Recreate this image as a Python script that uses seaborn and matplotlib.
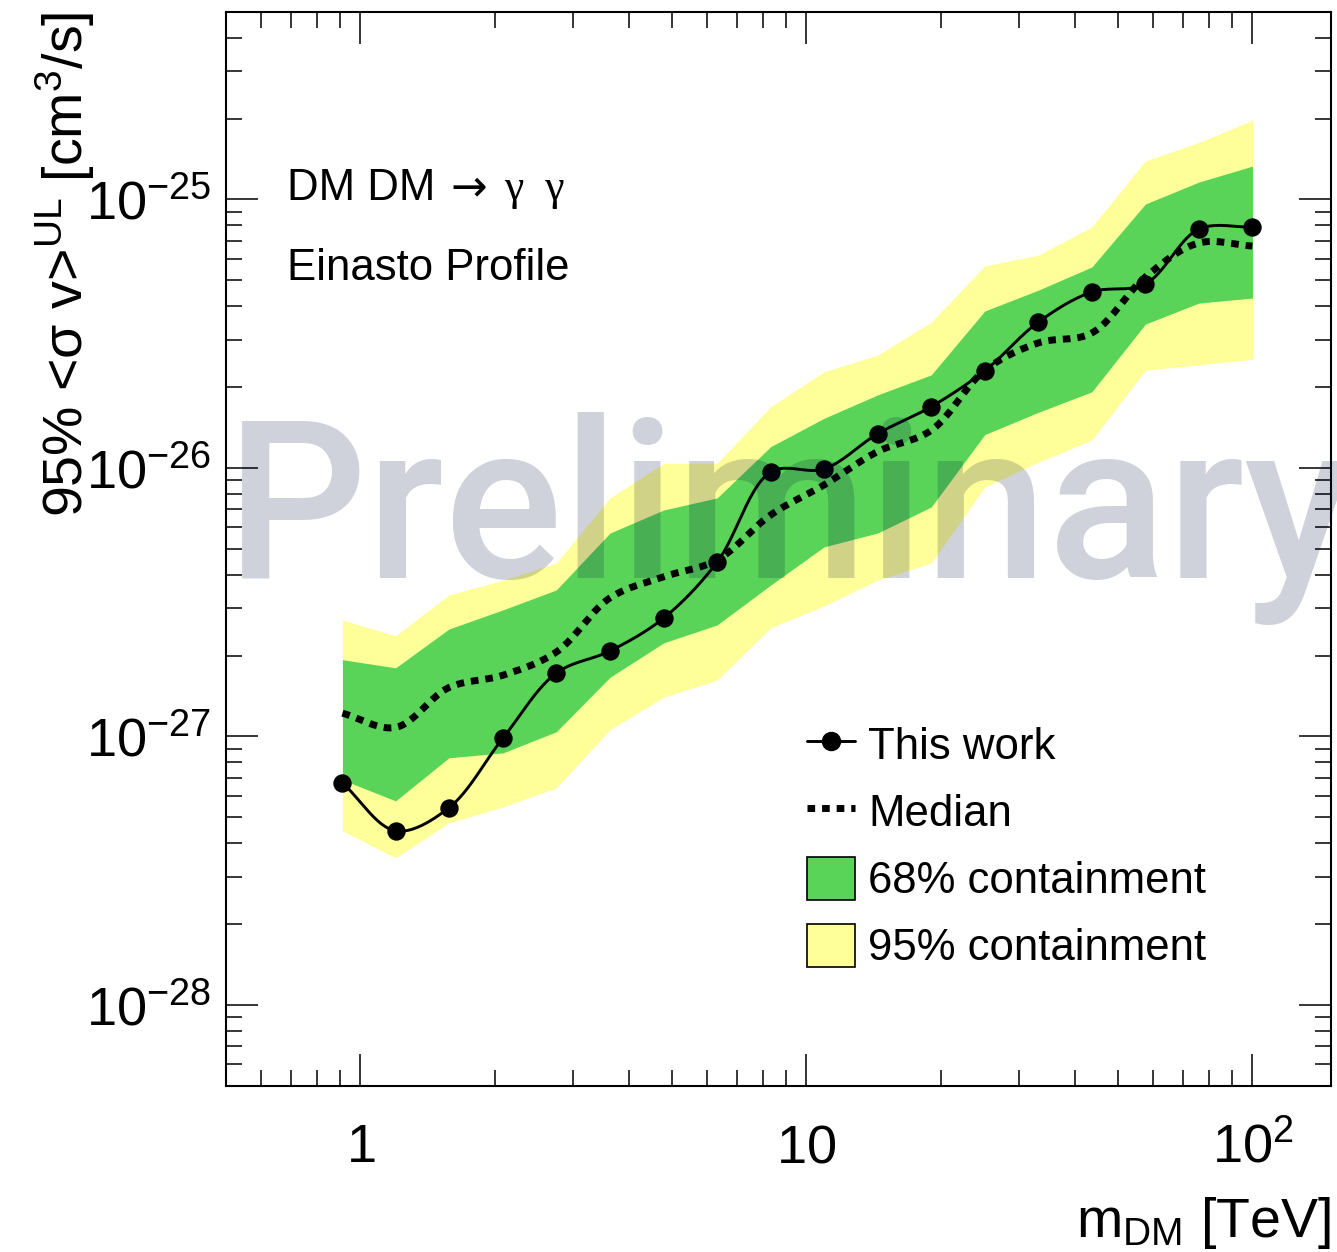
import numpy as np
import pandas as pd
import matplotlib
matplotlib.use("Agg")
import matplotlib.pyplot as plt
import seaborn as sns
from matplotlib.lines import Line2D
from matplotlib.patches import Patch
from matplotlib.ticker import FixedLocator, FixedFormatter, LogLocator, NullFormatter

# Dark-matter mass grid [TeV]
mass_tev = [0.912, 1.20, 1.58, 2.09, 2.75, 3.63, 4.79, 6.31, 8.32,
            10.96, 14.45, 19.05, 25.12, 33.11, 43.65, 57.54, 75.86, 100.0]

# 95% upper limit on <sigma v> [cm^3/s]
limit_ul = [6.71e-28, 4.45e-28, 5.42e-28, 9.87e-28, 1.72e-27, 2.08e-27,
            2.76e-27, 4.46e-27, 9.65e-27, 9.91e-27, 1.34e-26, 1.69e-26,
            2.30e-26, 3.49e-26, 4.52e-26, 4.84e-26, 7.75e-26, 7.89e-26]

# Expected limits from background-only realisations
median_ul = [1.22e-27, 1.08e-27, 1.52e-27, 1.69e-27, 2.06e-27, 3.28e-27,
             3.93e-27, 4.54e-27, 6.68e-27, 8.64e-27, 1.15e-26, 1.38e-26,
             2.31e-26, 2.92e-26, 3.18e-26, 5.14e-26, 6.88e-26, 6.70e-26]
band68_lo = [6.89e-28, 5.75e-28, 8.32e-28, 8.68e-28, 1.04e-27, 1.66e-27,
             2.23e-27, 2.60e-27, 3.66e-27, 5.08e-27, 5.72e-27, 7.15e-27,
             1.33e-26, 1.61e-26, 1.92e-26, 3.43e-26, 4.11e-26, 4.29e-26]
band68_hi = [1.93e-27, 1.80e-27, 2.51e-27, 2.96e-27, 3.51e-27, 5.72e-27,
             6.97e-27, 7.73e-27, 1.20e-26, 1.53e-26, 1.87e-26, 2.22e-26,
             3.84e-26, 4.59e-26, 5.60e-26, 9.61e-26, 1.16e-25, 1.33e-25]
band95_lo = [4.45e-28, 3.53e-28, 4.76e-28, 5.46e-28, 6.43e-28, 1.06e-27,
             1.40e-27, 1.62e-27, 2.54e-27, 3.06e-27, 3.82e-27, 4.42e-27,
             8.49e-27, 1.05e-26, 1.27e-26, 2.31e-26, 2.42e-26, 2.54e-26]
band95_hi = [2.71e-27, 2.37e-27, 3.36e-27, 3.82e-27, 4.42e-27, 7.73e-27,
             1.04e-26, 1.04e-26, 1.69e-26, 2.28e-26, 2.63e-26, 3.49e-26,
             5.65e-26, 6.20e-26, 7.89e-26, 1.39e-25, 1.63e-25, 1.97e-25]

x_tick_values = [1, 10, 100]
x_tick_labels = [r"$\mathdefault{1}$", r"$\mathdefault{10}$", r"$\mathdefault{10^{2}}$"]

df = pd.DataFrame({"mass": mass_tev, "limit": limit_ul, "median": median_ul,
                   "lo68": band68_lo, "hi68": band68_hi,
                   "lo95": band95_lo, "hi95": band95_hi})

GREEN = "#59D459"
YELLOW = "#FFFF99"

sns.set_theme(style="ticks")
plt.rcParams["font.family"] = ["Liberation Sans", "DejaVu Sans"]
plt.rcParams["mathtext.fontset"] = "custom"
plt.rcParams["mathtext.rm"] = "Liberation Sans"
plt.rcParams["mathtext.it"] = "Liberation Sans:italic"
plt.rcParams["mathtext.bf"] = "Liberation Sans:bold"
plt.rcParams["axes.linewidth"] = 1.5
plt.rcParams["axes.edgecolor"] = "black"
plt.rcParams["text.color"] = "black"
plt.rcParams["axes.labelcolor"] = "black"
plt.rcParams["xtick.color"] = "black"
plt.rcParams["ytick.color"] = "black"
plt.rcParams["legend.labelcolor"] = "black"


def catmull_rom(xv, yv, ax, n=40, alpha=0.5):
    """Smooth curve through the points, computed in screen space."""
    pts = ax.transData.transform(np.column_stack([xv, yv]))
    P = np.vstack([2 * pts[0] - pts[1], pts, 2 * pts[-1] - pts[-2]])
    segs = []
    for i in range(len(P) - 3):
        p0, p1, p2, p3 = P[i], P[i + 1], P[i + 2], P[i + 3]
        t0 = 0.0
        t1 = t0 + np.linalg.norm(p1 - p0) ** alpha
        t2 = t1 + np.linalg.norm(p2 - p1) ** alpha
        t3 = t2 + np.linalg.norm(p3 - p2) ** alpha
        t = np.linspace(t1, t2, n)[:, None]
        A1 = (t1 - t) / (t1 - t0) * p0 + (t - t0) / (t1 - t0) * p1
        A2 = (t2 - t) / (t2 - t1) * p1 + (t - t1) / (t2 - t1) * p2
        A3 = (t3 - t) / (t3 - t2) * p2 + (t - t2) / (t3 - t2) * p3
        B1 = (t2 - t) / (t2 - t0) * A1 + (t - t0) / (t2 - t0) * A2
        B2 = (t3 - t) / (t3 - t1) * A2 + (t - t1) / (t3 - t1) * A3
        C = (t2 - t) / (t2 - t1) * B1 + (t - t1) / (t2 - t1) * B2
        segs.append(C if i == 0 else C[1:])
    curve = ax.transData.inverted().transform(np.vstack(segs))
    return curve[:, 0], curve[:, 1]


fig = plt.figure(figsize=(13.37, 12.52), dpi=100)
ax = fig.add_axes([0.16903, 0.13283, 0.82648, 0.85783])
ax.set_xscale("log")
ax.set_yscale("log")
ax.set_xlim(0.5, 150)
ax.set_ylim(5e-29, 5e-25)

# Containment bands
ax.fill_between(df["mass"], df["lo95"], df["hi95"], color=YELLOW, lw=0, zorder=1)
ax.fill_between(df["mass"], df["lo68"], df["hi68"], color=GREEN, lw=0, zorder=2)

# Median expected limit (smooth, dotted)
mx, my = catmull_rom(df["mass"].values, df["median"].values, ax)
sns.lineplot(x=mx, y=my, ax=ax, color="black", lw=5, sort=False, estimator=None,
             linestyle=(0, (1.1, 1.0)), dash_capstyle="butt", zorder=3)

# Observed limit (smooth line + markers)
lx, ly = catmull_rom(df["mass"].values, df["limit"].values, ax)
sns.lineplot(x=lx, y=ly, ax=ax, color="black", lw=2.1, sort=False, estimator=None, zorder=4)
sns.scatterplot(data=df, x="mass", y="limit", ax=ax, color="black", s=175,
                edgecolor="black", linewidth=0, zorder=5)

# Axes, ticks
ax.xaxis.set_major_locator(FixedLocator(x_tick_values))
ax.xaxis.set_major_formatter(FixedFormatter(x_tick_labels))
ax.xaxis.set_minor_locator(LogLocator(base=10, subs=np.arange(2, 10), numticks=100))
ax.xaxis.set_minor_formatter(NullFormatter())
ax.yaxis.set_major_locator(LogLocator(base=10, numticks=100))
ax.yaxis.set_minor_locator(LogLocator(base=10, subs=np.arange(2, 10), numticks=100))
ax.yaxis.set_minor_formatter(NullFormatter())

ax.tick_params(which="both", direction="in", top=True, right=True,
               width=1.1, color="black", labelcolor="black")
ax.tick_params(which="major", length=23, labelsize=39)
ax.tick_params(which="minor", length=11.5)
ax.tick_params(axis="y", which="major", pad=10.5)
ax.tick_params(axis="x", which="major", pad=55)
for lbl in ax.get_xticklabels():
    lbl.set_verticalalignment("baseline")

ax.set_xlabel(r"m$_{\mathrm{DM}}$ [TeV]", fontsize=40, loc="right", color="black")
ax.xaxis.set_label_coords(1.0, -0.1409)
ax.xaxis.label.set_verticalalignment("baseline")
ax.set_ylabel("95% <σ v>$^{\\mathrm{UL}}$ [cm$^{3}$/s]", fontsize=40, loc="top",
              color="black")
ax.yaxis.set_label_coords(-0.1295, 1.0)
ax.yaxis.label.set_verticalalignment("baseline")

# Annotations: process and halo profile
ax.text(0.0548, 0.8247, "DM DM", transform=ax.transAxes, fontsize=31.5,
        va="baseline", ha="left", color="black")
ax.text(0.2035, 0.8247, "→", transform=ax.transAxes, fontsize=31.5,
        family=["DejaVu Sans"], va="baseline", ha="left", color="black")
ax.text(0.2515, 0.8247, "γ  γ", transform=ax.transAxes, fontsize=31.5,
        family=["Liberation Serif", "DejaVu Serif"], va="baseline", ha="left",
        color="black")
ax.text(0.0548, 0.750, "Einasto Profile", transform=ax.transAxes, fontsize=31.5,
        va="baseline", ha="left", color="black")

# Legend
handles = [
    Line2D([], [], color="black", lw=2.1, marker="o", markersize=13),
    Line2D([], [], color="black", lw=5, linestyle=(0, (1.1, 1.0)), dash_capstyle="butt"),
    Patch(facecolor=GREEN, edgecolor="black", linewidth=1.2),
    Patch(facecolor=YELLOW, edgecolor="black", linewidth=1.2),
]
labels = ["This work", "Median", "68% containment", "95% containment"]
leg = ax.legend(handles, labels, loc="upper left", bbox_to_anchor=(0.5258, 0.3376),
                frameon=False, fontsize=31.5, handlelength=1.1, handleheight=1.12,
                handletextpad=0.3, labelspacing=0.5, borderpad=0, borderaxespad=0)
for txt in leg.get_texts():
    txt.set_color("black")

# Watermark
ax.text(0.0, 0.4727, "Preliminary", transform=ax.transAxes, fontsize=159,
        family=["Roboto", "DejaVu Sans"], fontweight="medium",
        color="#00103C", alpha=0.19, ha="left", va="baseline",
        clip_on=False, zorder=10)

fig.savefig("out.png", dpi=100)
